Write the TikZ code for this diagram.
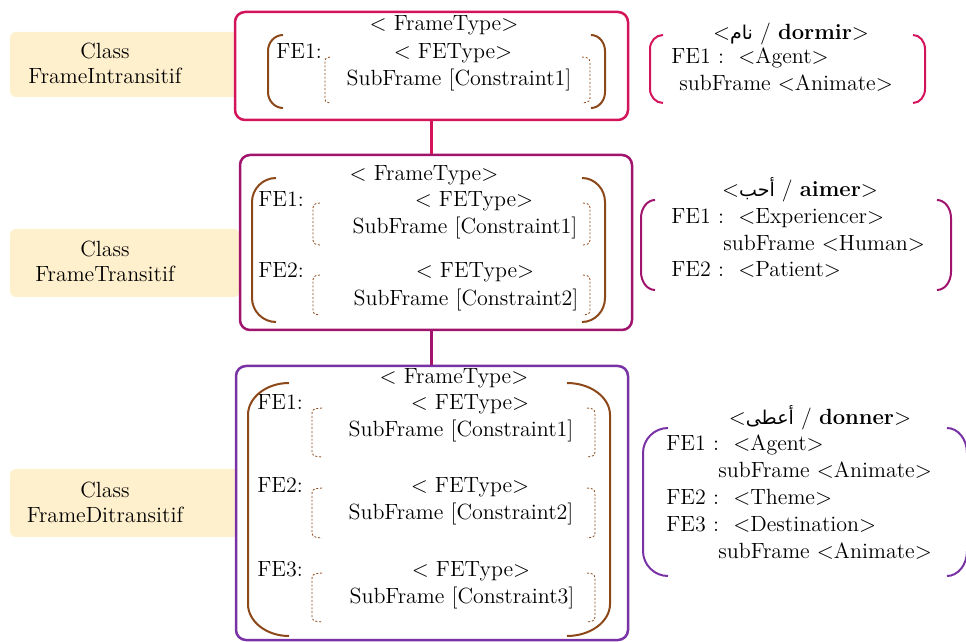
\documentclass[tikz,border=0pt]{standalone}
\usepackage{fontspec}
\TeXXeTstate=1
\newfontfamily\arabicfont[Script=Arabic]{DejaVu Sans}
\definecolor{cOne}{RGB}{212,20,90}
\definecolor{cTwo}{RGB}{160,20,110}
\definecolor{cThree}{RGB}{120,50,165}
\definecolor{pbrown}{RGB}{140,72,25}
\definecolor{clsfill}{RGB}{255,240,205}
\newcommand\artxt[1]{{\arabicfont\fontsize{9.5}{11}\selectfont\beginR #1\endR}}
% #1 colour, #2 end x, #3 top y, #4 bottom y, #5 straight-part x, #6 bend height
\newcommand\tparen[6]{\draw[#1,line width=1pt] (#2,#3) .. controls (0.55*#5+0.45*#2,#3) and (#5,#3+0.45*#6) .. (#5,#3+#6) -- (#5,#4-#6) .. controls (#5,#4-0.45*#6) and (0.55*#5+0.45*#2,#4) .. (#2,#4);}
\newcommand\dparen[4]{\draw[dparen] (#1,#2) .. controls (#3,#2+1) .. (#3,#2+9) -- (#3,#4-9) .. controls (#3,#4-1) .. (#1,#4);}
\begin{document}
\begin{tikzpicture}[x=0.5pt,y=-0.5pt,
  font=\fontsize{11}{13.5}\selectfont,
  t/.style={inner sep=0pt,anchor=mid},
  tl/.style={inner sep=0pt,anchor=mid west},
  clsbox/.style={fill=clsfill,rounded corners=3pt,inner sep=0pt,minimum width=115pt},
  clstext/.style={align=center,inner sep=0pt,font=\fontsize{11}{12.5}\selectfont},
  framebox/.style={fill=white,rounded corners=5pt,line width=1.25pt,inner sep=0pt,minimum width=196pt},
  dparen/.style={pbrown,line width=0.4pt,dash pattern=on 1pt off 0.9pt}]
\useasboundingbox (0,0) rectangle (966,642);

% class boxes
\node[clsbox,minimum height=32.5pt] (cls1) at (125,64.5) {};
\node[clsbox,minimum height=34pt] (cls2) at (125,263) {};
\node[clsbox,minimum height=34pt] (cls3) at (125,503) {};
\node[clstext] (cls1t) at (105,63) {Class\\FrameIntransitif};
\node[clstext] (cls2t) at (105,261) {Class\\FrameTransitif};
\node[clstext] (cls3t) at (105,502) {Class\\FrameDitransitif};

% frame boxes
\node[framebox,draw=cOne,minimum height=54pt,minimum width=196.5pt] (f1) at (431.5,66) {};
\node[framebox,draw=cTwo,minimum height=87.5pt] (f2) at (436,242.5) {};
\node[framebox,draw=cThree,minimum height=137pt] (f3) at (432,503) {};
\draw[cOne,line width=1.25pt] (f1.south) -- (f1.south |- f2.north);
\draw[cTwo,line width=1.25pt] (f1.south |- f2.south) -- (f1.south |- f3.north);

% frame 1 content
\node[t] (f1ft) at (444,26) {$<$ FrameType$>$};
\node[tl] (f1fe1) at (276,54) {FE1:};
\node[t] (f1t1) at (453,54) {$<$ FEType$>$};
\node[t] (f1s1) at (459,81) {SubFrame [Constraint1]};
\tparen{pbrown}{283}{35}{108}{268}{16}
\tparen{pbrown}{591}{35}{108}{605}{16}
\dparen{330}{57}{325}{103}
\dparen{582}{57}{590}{103}

% frame 2 content
\node[t] (f2ft) at (424,176) {$<$ FrameType$>$};
\node[tl] (f2fe1) at (258,202) {FE1:};
\node[t] (f2t1) at (474,202) {$<$ FEType$>$};
\node[t] (f2s1) at (465,229) {SubFrame [Constraint1]};
\node[tl] (f2fe2) at (258,273) {FE2:};
\node[t] (f2t2) at (475,273) {$<$ FEType$>$};
\node[t] (f2s2) at (466,301) {SubFrame [Constraint2]};
\tparen{pbrown}{276}{178}{322}{252}{24}
\tparen{pbrown}{582}{178}{322}{605}{24}
\dparen{320}{203}{313}{245}
\dparen{583}{203}{590}{245}
\dparen{320}{275}{313}{315}
\dparen{583}{275}{590}{315}

% frame 3 content
\node[t] (f3ft) at (454,379) {$<$ FrameType$>$};
\node[tl] (f3fe1) at (257,405) {FE1:};
\node[t] (f3t1) at (470,405) {$<$ FEType$>$};
\node[t] (f3s1) at (461,432) {SubFrame [Constraint1]};
\node[tl] (f3fe2) at (257,488) {FE2:};
\node[t] (f3t2) at (470,488) {$<$ FEType$>$};
\node[t] (f3s2) at (461,515) {SubFrame [Constraint2]};
\node[tl] (f3fe3) at (257,572) {FE3:};
\node[t] (f3t3) at (471,572) {$<$ FEType$>$};
\node[t] (f3s3) at (462,599) {SubFrame [Constraint3]};
\tparen{pbrown}{289}{383}{636}{248}{32}
\tparen{pbrown}{567}{383}{636}{610}{32}
\dparen{322}{408}{312}{457}
\dparen{587}{408}{595}{457}
\dparen{322}{488}{312}{538}
\dparen{587}{488}{595}{538}
\dparen{322}{573}{312}{622}
\dparen{587}{573}{595}{622}

% lexical entry 1
\node[t] (l1h) at (791,35) {$<$\artxt{نام} / \textbf{dormir}$>$};
\node[tl] (l1a) at (671,59) {FE1 :\ \ $<$Agent$>$};
\node[tl] (l1b) at (679,86) {subFrame $<$Animate$>$};
\tparen{cOne}{663}{35}{103}{650}{14}
\tparen{cOne}{913}{35}{103}{925}{14}

% lexical entry 2
\node[t] (l2h) at (800,192) {$<$\artxt{أحب} / \textbf{aimer}$>$};
\node[tl] (l2a) at (671,219) {FE1 :\ \ $<$Experiencer$>$};
\node[tl] (l2b) at (723,246) {subFrame $<$Human$>$};
\node[tl] (l2c) at (671,272) {FE2 :\ \ $<$Patient$>$};
\tparen{cTwo}{655}{200}{290}{641}{18}
\tparen{cTwo}{937}{200}{290}{951}{18}

% lexical entry 3
\node[t] (l3h) at (820,420) {$<$\artxt{أعطى} / \textbf{donner}$>$};
\node[tl] (l3a) at (666,446) {FE1 :\ \ $<$Agent$>$};
\node[tl] (l3b) at (718,473) {subFrame $<$Animate$>$};
\node[tl] (l3c) at (666,500) {FE2 :\ \ $<$Theme$>$};
\node[tl] (l3d) at (666,527) {FE3 :\ \ $<$Destination$>$};
\node[tl] (l3e) at (718,554) {subFrame $<$Animate$>$};
\tparen{cThree}{668}{428}{576}{643}{25}
\tparen{cThree}{947}{428}{576}{967}{25}
\end{tikzpicture}
\end{document}
